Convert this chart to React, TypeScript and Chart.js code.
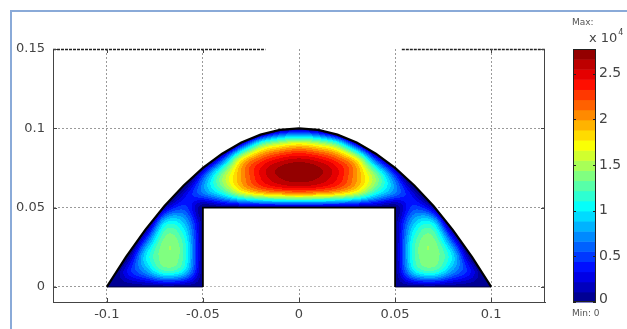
import { useEffect, useRef } from "react";
import { Chart, registerables } from "chart.js";

Chart.register(...registerables);

// ---- axes ----
const X_RANGE = [-0.128, 0.128];
const Y_RANGE = [-0.0095, 0.15];
const X_TICKS = [-0.1, -0.05, 0, 0.05, 0.1];
const Y_TICKS = [0, 0.05, 0.1, 0.15];

// ---- colour bar ----
const CB_MIN = 0;
const CB_MAX = 2.77;
const CB_LEVELS = 25;
const CB_TICKS = [0, 0.5, 1, 1.5, 2, 2.5];
const CB_TOP_TEXT = "Max:";
const CB_SCALE_TEXT = "x 10";
const CB_SCALE_EXP = "4";
const CB_BOTTOM_TEXT = "Min: 0";

// ---- geometry ----
const ARCH_X = [-0.1, -0.09, -0.08, -0.07, -0.06, -0.05, -0.04, -0.03, -0.02, -0.01, 0, 0.01, 0.02, 0.03, 0.04, 0.05, 0.06, 0.07, 0.08, 0.09, 0.1];
const ARCH_Y = [0, 0.019, 0.036, 0.051, 0.064, 0.075, 0.084, 0.091, 0.096, 0.099, 0.1, 0.099, 0.096, 0.091, 0.084, 0.075, 0.064, 0.051, 0.036, 0.019, 0];
const HOLE_X = [-0.05, -0.05, 0.05, 0.05];
const HOLE_Y = [0, 0.05, 0.05, 0];
const BASE_LEFT_X = [-0.1, -0.05];
const BASE_RIGHT_X = [0.05, 0.1];
const TOP_SEGMENTS = [[-0.128, -0.0175], [0.0535, 0.128]];

// ---- field samples (value / 10^4), rows y = 0 .. 0.1, columns x = -0.1 .. 0.1 ----
const GRID_X = [-0.1, -0.09, -0.08, -0.07, -0.06, -0.05, -0.04, -0.03, -0.02, -0.01, 0, 0.01, 0.02, 0.03, 0.04, 0.05, 0.06, 0.07, 0.08, 0.09, 0.1];
const GRID_Y = [0, 0.01, 0.02, 0.03, 0.04, 0.05, 0.06, 0.07, 0.08, 0.09, 0.1];
const FIELD = [
  [0, 0, 0, 0, 0, 0, 0, 0, -1, -1, -1, -1, -1, 0, 0, 0, 0, 0, 0, 0, 0],
  [-0.4, 0.3, 0.75, 1.2, 1.0, 0, -1.0, -1.2, -1.9, -2, -2, -2, -1.9, -1.2, -1.0, 0, 1.0, 1.2, 0.75, 0.3, -0.4],
  [-1.0, -0.15, 0.95, 1.4, 1.2, 0, -1.2, -1.4, -2.3, -2.45, -2.5, -2.45, -2.3, -1.4, -1.2, 0, 1.2, 1.4, 0.95, -0.15, -1.0],
  [-1.8, -0.9, 0.45, 1.35, 1.15, 0, -1.15, -1.35, -2.45, -2.65, -2.7, -2.65, -2.45, -1.35, -1.15, 0, 1.15, 1.35, 0.45, -0.9, -1.8],
  [-2.5, -1.5, -0.35, 1.0, 0.9, 0, -1.0, -1.5, -2.0, -2.15, -2.2, -2.15, -2.0, -1.5, -1.0, 0, 0.9, 1.0, -0.35, -1.5, -2.5],
  [-3.2, -2.3, -1.3, 0.1, 0.5, 0, 0, 0, 0, 0, 0, 0, 0, 0, 0, 0, 0.5, 0.1, -1.3, -2.3, -3.2],
  [-4, -3, -2, -0.8, 0.15, 0.7, 1.15, 1.7, 2.0, 2.15, 2.2, 2.15, 2.0, 1.7, 1.15, 0.7, 0.15, -0.8, -2, -3, -4],
  [-4.5, -3.6, -2.6, -1.6, -0.6, 0.5, 1.4, 2.0, 2.45, 2.68, 2.75, 2.68, 2.45, 2.0, 1.4, 0.5, -0.6, -1.6, -2.6, -3.6, -4.5],
  [-5, -4.5, -3.5, -2.5, -1.5, -0.5, 0.55, 1.75, 2.25, 2.5, 2.6, 2.5, 2.25, 1.75, 0.55, -0.5, -1.5, -2.5, -3.5, -4.5, -5],
  [-5, -5, -4.5, -3.5, -2.8, -1.8, -0.9, 0.25, 1.25, 1.6, 1.75, 1.6, 1.25, 0.25, -0.9, -1.8, -2.8, -3.5, -4.5, -5, -5],
  [-5, -5, -5, -4, -3.5, -3, -2.5, -1.8, -0.8, -0.15, 0, -0.15, -0.8, -1.8, -2.5, -3, -3.5, -4, -5, -5, -5],
];

// ---- helpers ----
const FONT = "DejaVu Sans";
const fmt = (v: number) => String(Math.round(v * 10000) / 10000);

function jet(t: number): number[] {
  const c = (v: number) => Math.max(0, Math.min(1, v));
  return [c(1.5 - Math.abs(4 * t - 3)), c(1.5 - Math.abs(4 * t - 2)), c(1.5 - Math.abs(4 * t - 1))].map((v) =>
    Math.round(v * 255)
  );
}
const LEVEL_COLORS = Array.from({ length: CB_LEVELS }, (_, k) => jet((k + 0.5) / CB_LEVELS));

const NX = GRID_X.length;
const NY = GRID_Y.length;
function g(i: number, j: number): number {
  if (i < 0) return 2 * g(0, j) - g(-i, j);
  if (i > NX - 1) return 2 * g(NX - 1, j) - g(2 * (NX - 1) - i, j);
  if (j < 0) return 2 * g(i, 0) - g(i, -j);
  if (j > NY - 1) return 2 * g(i, NY - 1) - g(i, 2 * (NY - 1) - j);
  return FIELD[j][i];
}
const cr = (p0: number, p1: number, p2: number, p3: number, t: number) =>
  0.5 * (2 * p1 + (p2 - p0) * t + (2 * p0 - 5 * p1 + 4 * p2 - p3) * t * t + (3 * p1 - p0 - 3 * p2 + p3) * t * t * t);
function sample(vx: number, vy: number): number {
  const fx = (vx - GRID_X[0]) / (GRID_X[1] - GRID_X[0]);
  const fy = (vy - GRID_Y[0]) / (GRID_Y[1] - GRID_Y[0]);
  const i = Math.max(0, Math.min(NX - 2, Math.floor(fx)));
  const j = Math.max(0, Math.min(NY - 2, Math.floor(fy)));
  const tx = fx - i;
  const ty = fy - j;
  const r: number[] = [];
  for (let m = -1; m <= 2; m++) r.push(cr(g(i - 1, j + m), g(i, j + m), g(i + 1, j + m), g(i + 2, j + m), tx));
  return cr(r[0], r[1], r[2], r[3], ty);
}

function domainPath(ctx: CanvasRenderingContext2D, xs: any, ys: any) {
  ctx.beginPath();
  ARCH_X.forEach((vx, k) => {
    const px = xs.getPixelForValue(vx);
    const py = ys.getPixelForValue(ARCH_Y[k]);
    if (k === 0) ctx.moveTo(px, py);
    else ctx.lineTo(px, py);
  });
  for (let k = HOLE_X.length - 1; k >= 0; k--) ctx.lineTo(xs.getPixelForValue(HOLE_X[k]), ys.getPixelForValue(HOLE_Y[k]));
  ctx.closePath();
}

const fieldPlugin = {
  id: "field",
  beforeDatasetsDraw(chart: any) {
    const { ctx, chartArea: a, scales } = chart;
    const xs = scales.x;
    const ys = scales.y;
    const w = Math.round(a.right - a.left);
    const h = Math.round(a.bottom - a.top);
    const off = document.createElement("canvas");
    off.width = w;
    off.height = h;
    const octx = off.getContext("2d")!;
    const img = octx.createImageData(w, h);
    const d = (CB_MAX - CB_MIN) / CB_LEVELS;
    for (let py = 0; py < h; py++) {
      const vy = ys.getValueForPixel(a.top + py + 0.5);
      if (vy < -0.002 || vy > 0.102) continue;
      for (let px = 0; px < w; px++) {
        const vx = xs.getValueForPixel(a.left + px + 0.5);
        if (vx < -0.102 || vx > 0.102) continue;
        const v = sample(vx, vy);
        let k = Math.floor((v - CB_MIN) / d);
        k = Math.max(0, Math.min(CB_LEVELS - 1, k));
        const c = LEVEL_COLORS[k];
        const idx = (py * w + px) * 4;
        img.data[idx] = c[0];
        img.data[idx + 1] = c[1];
        img.data[idx + 2] = c[2];
        img.data[idx + 3] = 255;
      }
    }
    octx.putImageData(img, 0, 0);
    ctx.save();
    domainPath(ctx, xs, ys);
    ctx.clip();
    ctx.drawImage(off, a.left, a.top);
    ctx.restore();
    // hole is blank
    ctx.save();
    ctx.fillStyle = "#ffffff";
    const hx0 = xs.getPixelForValue(HOLE_X[0]);
    const hx1 = xs.getPixelForValue(HOLE_X[3]);
    const hy0 = ys.getPixelForValue(HOLE_Y[1]);
    const hy1 = ys.getPixelForValue(HOLE_Y[0]) - 0.6;
    ctx.fillRect(hx0, hy0, hx1 - hx0, hy1 - hy0);
    ctx.restore();
  },
};

const decorPlugin = {
  id: "decor",
  afterDraw(chart: any) {
    const { ctx, chartArea: a, scales } = chart;
    const xs = scales.x;
    const ys = scales.y;
    ctx.save();
    // right axis
    ctx.strokeStyle = "#444";
    ctx.lineWidth = 1;
    ctx.beginPath();
    ctx.moveTo(a.right - 0.5, a.top);
    ctx.lineTo(a.right - 0.5, a.bottom);
    ctx.stroke();
    // top axis pieces
    ctx.strokeStyle = "#222";
    ctx.lineWidth = 1.5;
    ctx.setLineDash([3, 1]);
    TOP_SEGMENTS.forEach(([s, e]) => {
      ctx.beginPath();
      ctx.moveTo(xs.getPixelForValue(s), a.top + 0.5);
      ctx.lineTo(xs.getPixelForValue(e), a.top + 0.5);
      ctx.stroke();
    });
    ctx.setLineDash([]);
    // inward ticks
    ctx.strokeStyle = "#444";
    ctx.lineWidth = 1;
    Y_TICKS.forEach((v) => {
      const py = Math.round(ys.getPixelForValue(v)) + 0.5;
      ctx.beginPath();
      ctx.moveTo(a.left, py);
      ctx.lineTo(a.left + 4, py);
      ctx.moveTo(a.right, py);
      ctx.lineTo(a.right - 4, py);
      ctx.stroke();
    });
    X_TICKS.forEach((v) => {
      const px = Math.round(xs.getPixelForValue(v)) + 0.5;
      ctx.beginPath();
      ctx.moveTo(px, a.bottom);
      ctx.lineTo(px, a.bottom - 4);
      const onTop = TOP_SEGMENTS.some(([s, e]) => v >= s && v <= e);
      if (onTop) {
        ctx.moveTo(px, a.top);
        ctx.lineTo(px, a.top + 4);
      }
      ctx.stroke();
    });

    // colour bar
    const cbL = a.right + 28;
    const cbW = 23;
    const cbTop = a.top;
    const cbBot = a.bottom;
    const cy = (v: number) => cbBot - ((v - CB_MIN) / (CB_MAX - CB_MIN)) * (cbBot - cbTop);
    const d = (CB_MAX - CB_MIN) / CB_LEVELS;
    for (let k = 0; k < CB_LEVELS; k++) {
      const c = LEVEL_COLORS[k];
      ctx.fillStyle = `rgb(${c[0]},${c[1]},${c[2]})`;
      const y0 = cy(CB_MIN + (k + 1) * d);
      const y1 = cy(CB_MIN + k * d);
      ctx.fillRect(cbL, y0, cbW, y1 - y0 + 0.5);
    }
    ctx.strokeStyle = "#222";
    ctx.lineWidth = 1;
    ctx.strokeRect(cbL + 0.5, cbTop + 0.5, cbW - 1, cbBot - cbTop - 1);
    ctx.fillStyle = "#444";
    ctx.font = `14px "${FONT}"`;
    ctx.textAlign = "left";
    ctx.textBaseline = "middle";
    CB_TICKS.forEach((v) => {
      const py = Math.round(cy(v)) + 0.5;
      ctx.beginPath();
      ctx.moveTo(cbL, py);
      ctx.lineTo(cbL + 3, py);
      ctx.moveTo(cbL + cbW, py);
      ctx.lineTo(cbL + cbW - 3, py);
      ctx.stroke();
      ctx.fillText(fmt(v), cbL + cbW + 3, Math.min(cy(v), cbBot - 3));
    });
    ctx.font = `9px "${FONT}"`;
    ctx.fillStyle = "#555";
    ctx.fillText(CB_TOP_TEXT, cbL - 1, 23);
    ctx.fillText(CB_BOTTOM_TEXT, cbL - 1, cbBot + 12);
    ctx.font = `13px "${FONT}"`;
    ctx.fillStyle = "#444";
    ctx.fillText(CB_SCALE_TEXT, cbL + 16, 39);
    ctx.font = `8px "${FONT}"`;
    ctx.fillText(CB_SCALE_EXP, cbL + 16 + ctx.measureText(CB_SCALE_TEXT).width * 13 / 8 + 1, 33);

    // outer frame
    ctx.strokeStyle = "#8aaad8";
    ctx.lineWidth = 2;
    ctx.strokeRect(11, 11, 800, 500);
    ctx.restore();
  },
};

export default function App() {
  const ref = useRef<HTMLCanvasElement>(null);
  useEffect(() => {
    const canvas = ref.current;
    if (!canvas) return;
    const line = (xsArr: number[], ysArr: number[], color: string, width: number) => ({
      data: xsArr.map((x, k) => ({ x, y: ysArr[k] })),
      showLine: true,
      borderColor: color,
      borderWidth: width,
      pointRadius: 0,
      fill: false,
    });
    const chart = new Chart(canvas, {
      type: "scatter",
      data: {
        datasets: [
          line(ARCH_X, ARCH_Y, "#000000", 2.2),
          line(HOLE_X, HOLE_Y, "#000000", 1.8),
          line(BASE_LEFT_X, [0, 0], "#00003a", 1),
          line(BASE_RIGHT_X, [0, 0], "#00003a", 1),
        ] as any,
      },
      options: {
        responsive: false,
        devicePixelRatio: 1,
        animation: false,
        events: [],
        layout: { padding: { left: 0, top: 49, right: 82, bottom: 0 } },
        plugins: { legend: { display: false }, tooltip: { enabled: false } },
        scales: {
          x: {
            type: "linear",
            min: X_RANGE[0],
            max: X_RANGE[1],
            afterBuildTicks: (s: any) => {
              s.ticks = X_TICKS.map((value) => ({ value }));
            },
            afterFit: (s: any) => {
              s.height = 27;
            },
            grid: { color: "#9a9a9a", lineWidth: 1, drawTicks: false },
            border: { display: true, color: "#444", width: 1, dash: [2, 2] },
            ticks: {
              padding: 5,
              color: "#444",
              font: { family: FONT, size: 13 },
              maxRotation: 0,
              autoSkip: false,
              callback: (v: any) => fmt(Number(v)),
            },
          },
          y: {
            type: "linear",
            min: Y_RANGE[0],
            max: Y_RANGE[1],
            afterBuildTicks: (s: any) => {
              s.ticks = Y_TICKS.map((value) => ({ value }));
            },
            afterFit: (s: any) => {
              s.width = 53;
            },
            grid: {
              color: (c: any) => (c.tick && c.tick.value === Y_TICKS[Y_TICKS.length - 1] ? "rgba(0,0,0,0)" : "#9a9a9a"),
              lineWidth: 1,
              drawTicks: false,
            },
            border: { display: true, color: "#444", width: 1, dash: [2, 2] },
            ticks: {
              padding: 8,
              color: "#444",
              font: { family: FONT, size: 13 },
              autoSkip: false,
              callback: (v: any) => fmt(Number(v)),
            },
          },
        },
      } as any,
      plugins: [fieldPlugin, decorPlugin],
    });
    return () => chart.destroy();
  }, []);
  return (
    <div style={{ position: "fixed", left: 0, top: 0, width: 627, height: 329, background: "#ffffff" }}>
      <canvas ref={ref} width={627} height={329} style={{ display: "block" }} />
    </div>
  );
}
